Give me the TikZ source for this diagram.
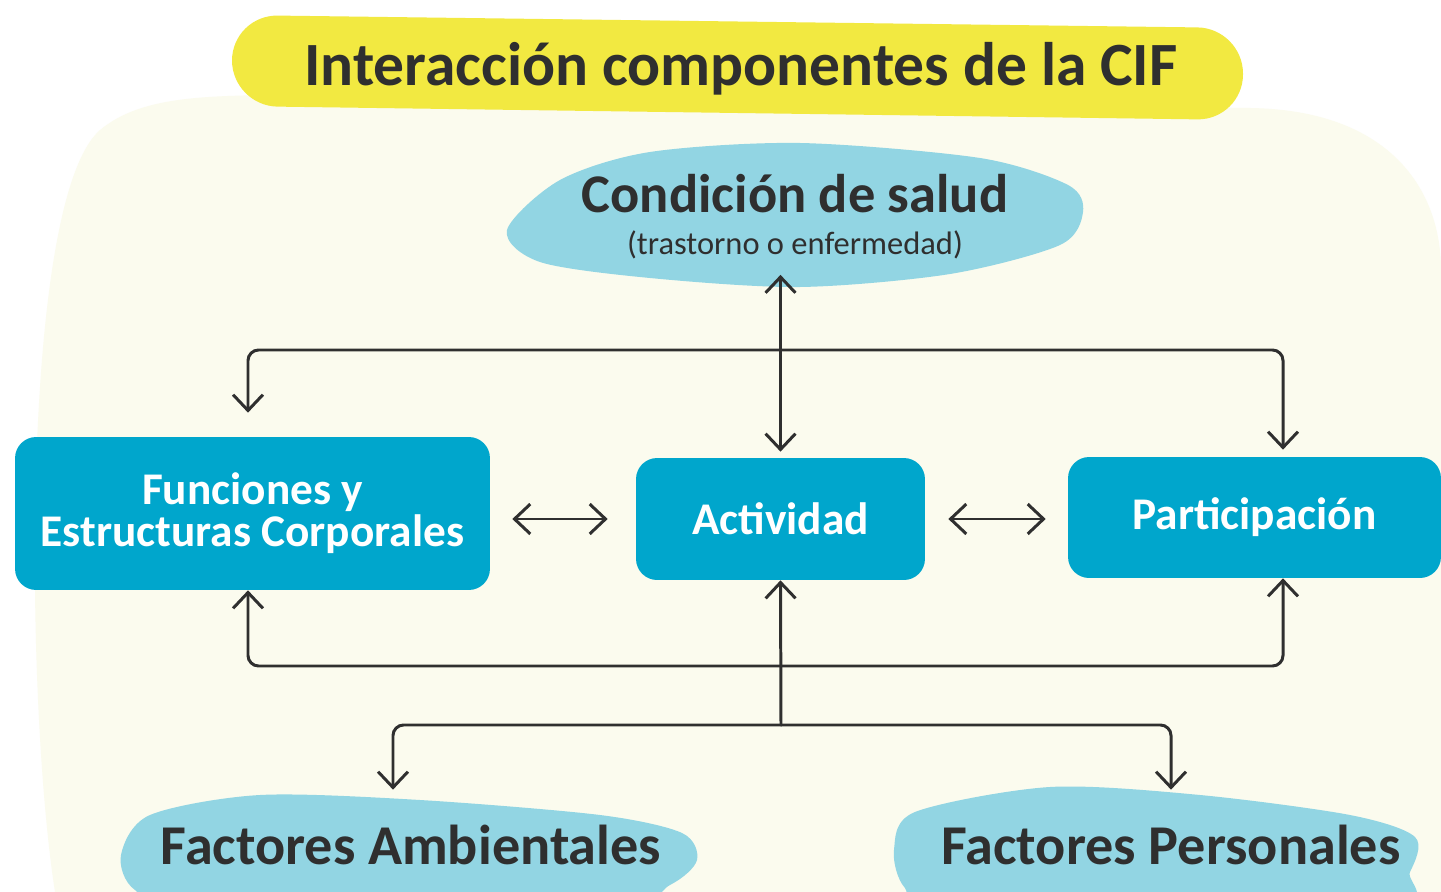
\documentclass[tikz,border=0pt]{standalone}
\usepackage{fontspec}
\setmainfont{Carlito}
\usetikzlibrary{arrows.meta,calc}
\definecolor{ink}{HTML}{2F2F2F}
\definecolor{boxblue}{HTML}{00A6CC}
\definecolor{blobblue}{HTML}{92D5E3}
\definecolor{titleyellow}{HTML}{F2E941}
\definecolor{cream}{HTML}{FBFBEE}
\begin{document}
\begin{tikzpicture}
	[
	x=0.02cm, y=-0.02cm,
	box/.style={fill=boxblue, text=white, rounded corners=12pt, inner sep=0pt, align=center, font=\fontsize{25.8}{24}\selectfont\bfseries},
	blobtext/.style={text=ink, inner sep=0pt, align=center, font=\fontsize{32}{34}\selectfont\bfseries},
	arr/.style={draw=ink, line width=1.7pt, line cap=round, rounded corners=6pt, >={Straight Barb[length=9pt,width=17pt]}}
	]
	
	\useasboundingbox (0,0) rectangle (1441,892);
	\clip (0,0) rectangle (1441,892);
	\fill[white] (0,0) rectangle (1441,892);
	
	% Background
	\fill[cream] (55,892) .. controls (25,700) and (20,200) .. (100,130) .. controls (140,97) and (200,95) .. (300,95) -- (1250,108) .. controls (1390,110) and (1441,190) .. (1441,270) -- (1441,892) -- cycle;
	
	% Title
	\fill[titleyellow, rounded corners=26pt] (232,15) -- (1243,28) -- (1243,120) -- (232,106) -- cycle;
	\node[text=ink, font=\fontsize{35}{37}\selectfont\bfseries, anchor=base](title) at (741,86){Interacción componentes de la CIF};
	
	% Blobs
	\fill[blobblue] plot[smooth cycle] coordinates {(507,230) (560,180) (650,152) (800,143) (980,158) (1068,185) (1083,212) (1060,245) (950,274) (800,287) (650,278) (540,262)};
	\fill[blobblue] plot[smooth cycle] coordinates {(121,855) (150,815) (260,795) (420,800) (600,815) (682,833) (697,860) (670,885) (600,910) (200,910) (135,890)};
	\fill[blobblue] plot[smooth cycle] coordinates {(894,850) (915,812) (1050,787) (1200,795) (1350,815) (1415,837) (1410,872) (1380,910) (950,910) (905,888)};
	
	\node[text=ink, align=center, inner sep=0pt, minimum height=2.3cm, font=\fontsize{18.5}{24}\selectfont](salud) at (795,217){{\fontsize{31}{33}\selectfont\bfseries Condición de salud}\\(trastorno o enfermedad)};
	\node[blobtext, minimum height=2.2cm](amb) at (411,845){Factores Ambientales};
	\node[blobtext, minimum height=2.2cm](pers) at (1171,845){Factores Personales};
	
	% Boxes
	\node[box, minimum width=9.5cm, minimum height=3.06cm](fun) at (252.5,513.5){Funciones y\\Estructuras Corporales};
	\node[box, minimum width=5.78cm, minimum height=2.44cm](act) at (780.5,519){Actividad};
	\node[box, minimum width=7.46cm, minimum height=2.42cm](part) at (1254.5,517.5){Participación};
	
	% Connectors
	\coordinate (tl) at (248,350);
	\coordinate (tr) at (1283,350);
	\coordinate (bl) at (248,666);
	\coordinate (br) at (1283,666);
	\coordinate (hub) at (781,725);
	\coordinate (fl) at (393,725);
	\coordinate (fr) at (1171,725);
	
	\draw[arr,<->] (act.north |- salud.south) -- ($(act.north)+(0,-6)$);
	\draw[arr,<->] ($(fun.north -| tl)+(0,-24)$) -- (tl) -- (tr) -- ($(part.north -| tr)+(0,-7)$);
	\draw[arr,<->] (fun.south -| bl) -- (bl) -- (br) -- (part.south -| br);
	\draw[arr,->] (hub) -- (act.south);
	\draw[arr,->] (hub) -- (fl) -- (amb.north -| fl);
	\draw[arr,->] (hub) -- (fr) -- (pers.north -| fr);
	\draw[arr,<->] ($(fun.east |- act.west)+(22,0)$) -- ($(act.west)+(-28,0)$);
	\draw[arr,<->] ($(act.east)+(23,0)$) -- ($(part.west |- act.east)+(-22,0)$);
\end{tikzpicture}
\end{document}
